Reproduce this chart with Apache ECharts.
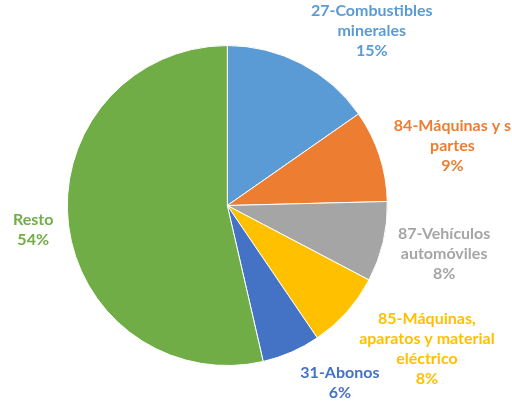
<!DOCTYPE html>
<html>
<head>
<meta charset="utf-8">
<script src="https://cdn.jsdelivr.net/npm/echarts@6/dist/echarts.min.js"></script>
<style>
  html, body { margin: 0; padding: 0; background: #fff; }
  #chart { width: 512px; height: 403px; }
</style>
</head>
<body>
<div id="chart"></div>
<script>
// categorías y porcentajes (horario desde las 12)
const categories = [
  '27-Combustibles\nminerales',
  '84-Máquinas y s\npartes',
  '87-Vehículos\nautomóviles',
  '85-Máquinas,\naparatos y material\neléctrico',
  '31-Abonos',
  'Resto'
]
const shares = [15.3, 9.3, 8.1, 7.8, 5.9, 53.6]
const colors = ['#5B9BD5', '#ED7D31', '#A5A5A5', '#FFC000', '#4472C4', '#70AD47']

const RADIUS = 160
const GAP = 10

const chart = echarts.init(document.getElementById('chart'))

chart.setOption({
  animation: false,
  backgroundColor: '#fff',
  series: [{
    type: 'pie',
    center: ['44.4%', '51%'],
    radius: RADIUS,
    startAngle: 90,
    clockwise: true,
    avoidLabelOverlap: false,
    itemStyle: {
      borderColor: '#fff',
      borderWidth: 1
    },
    label: {
      show: true,
      position: 'outside',
      fontFamily: 'Lato, sans-serif',
      fontWeight: 'bold',
      fontSize: 16,
      lineHeight: 20,
      formatter: (p) => p.name + '\n' + Math.round(p.percent) + '%'
    },
    labelLine: {
      show: false,
      length: 10,
      length2: 0
    },
    // como en Excel: el borde cercano de la etiqueta junto al punto medio del arco
    labelLayout: (params) => {
      const pts = params.labelLinePoints
      if (!pts) return {}
      const dx0 = pts[1][0] - pts[0][0]
      const dy0 = pts[1][1] - pts[0][1]
      const len = Math.sqrt(dx0 * dx0 + dy0 * dy0) || 1
      const dx = dx0 / len
      const dy = dy0 / len
      const cx = pts[0][0] - dx * RADIUS
      const cy = pts[0][1] - dy * RADIUS
      const w = params.labelRect.width
      const h = params.labelRect.height
      const ax = cx + dx * (RADIUS + GAP)
      const ay = cy + dy * (RADIUS + GAP)
      const side = dx >= 0 ? 1 : -1
      return {
        x: ax + side * (w / 2 + 5),
        y: ay + dy * h / 2 + 3,
        align: 'center',
        verticalAlign: 'middle'
      }
    },
    data: categories.map((name, i) => ({
      name: name,
      value: shares[i],
      itemStyle: {color: colors[i]},
      label: {color: colors[i]}
    }))
  }]
})
</script>
</body>
</html>
